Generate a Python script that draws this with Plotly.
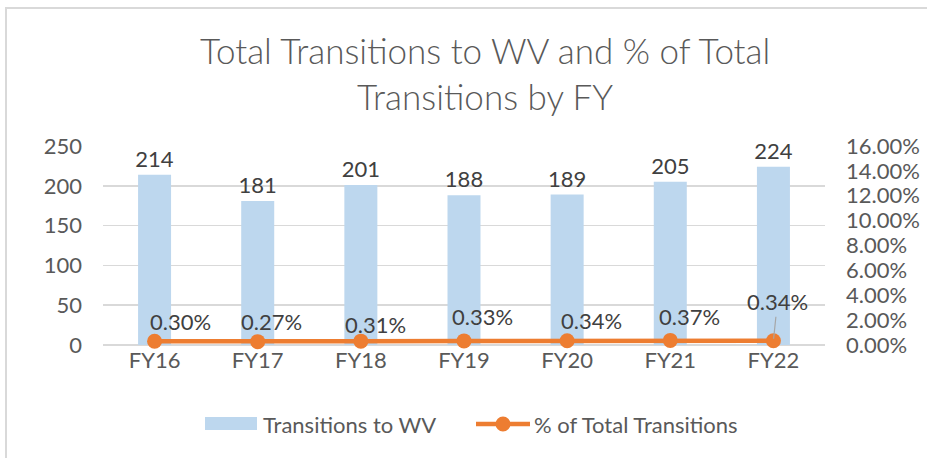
import plotly.graph_objects as go

categories = ["FY16", "FY17", "FY18", "FY19", "FY20", "FY21", "FY22"]
transitions = [214, 181, 201, 188, 189, 205, 224]
pct_total = [0.0030, 0.0027, 0.0031, 0.0033, 0.0034, 0.0037, 0.0034]
series_names = ["Transitions to WV", "% of Total Transitions"]

# label offsets (pixels) for the percentage data labels
label_dx = [26, 14, 15, 18, 24, 19, 4]
label_dy = [-20, -20, -17, -24, -20, -24, -39]

W, H = 927, 458
ML, MR, MT, MB = 103, 102, 146, 113
FONT = "Lato, 'Open Sans', sans-serif"
TXT = "#595959"
LBL = "#404040"
BLUE = "#BDD7EE"
ORANGE = "#ED7D31"

fig = go.Figure()
fig.add_trace(go.Bar(
    x=categories, y=transitions, name=series_names[0],
    marker=dict(color=BLUE, line=dict(width=0)),
    text=[str(v) for v in transitions], textposition="outside",
    constraintext="none",
    textfont=dict(family=FONT, size=22, color=LBL),
    cliponaxis=False, yaxis="y",
))
fig.add_trace(go.Scatter(
    x=categories, y=pct_total, name=series_names[1],
    mode="lines+markers",
    line=dict(color=ORANGE, width=4.5),
    marker=dict(color=ORANGE, size=15),
    yaxis="y2", cliponaxis=False,
))

pw = W - ML - MR
ph = H - MT - MB


def px(xp):
    return (xp - ML) / pw


def py(yp):
    return (H - MB - yp) / ph


annotations = []
for i, (c, v) in enumerate(zip(categories, pct_total)):
    a = dict(x=c, y=v, xref="x", yref="y2", text=f"{v*100:.2f}%",
             font=dict(family=FONT, size=22, color=LBL))
    if label_dy[i] < -30:
        a.update(showarrow=True, ax=label_dx[i], ay=label_dy[i], arrowhead=0,
                 arrowwidth=1.2, arrowcolor="#A6A6A6", standoff=2)
    else:
        a.update(showarrow=False, xshift=label_dx[i], yshift=-label_dy[i])
    annotations.append(a)

# title
annotations.append(dict(
    x=px(485), y=py(73), xref="paper", yref="paper", showarrow=False,
    xanchor="center", yanchor="middle",
    text="Total Transitions to WV and % of Total<br>Transitions by FY",
    font=dict(family=FONT, size=35, color=TXT, weight=300)))

# legend (manual)
annotations.append(dict(x=px(261), y=py(424), xref="paper", yref="paper",
                        showarrow=False, xanchor="left", yanchor="middle",
                        text=series_names[0],
                        font=dict(family=FONT, size=22, color=TXT)))
annotations.append(dict(x=px(532), y=py(424), xref="paper", yref="paper",
                        showarrow=False, xanchor="left", yanchor="middle",
                        text=series_names[1],
                        font=dict(family=FONT, size=22, color=TXT)))

shapes = [
    dict(type="rect", xref="paper", yref="paper", x0=px(6), x1=3,
         y0=-3, y1=py(8), line=dict(color="#D9D9D9", width=2), layer="below"),
    dict(type="rect", xref="paper", yref="paper", x0=px(205), x1=px(257),
         y0=py(430), y1=py(417), fillcolor=BLUE, line=dict(width=0)),
    dict(type="line", xref="paper", yref="paper", x0=px(476), x1=px(530),
         y0=py(424), y1=py(424), line=dict(color=ORANGE, width=4.5)),
    dict(type="circle", xref="paper", yref="paper", x0=px(495.5), x1=px(510.5),
         y0=py(431.5), y1=py(416.5), fillcolor=ORANGE, line=dict(width=0)),
]

fig.update_layout(
    width=W, height=H,
    margin=dict(l=ML, r=MR, t=MT, b=MB, autoexpand=False),
    paper_bgcolor="white", plot_bgcolor="white",
    font=dict(family=FONT, size=22, color=TXT),
    bargap=0.68,
    showlegend=False,
    xaxis=dict(type="category", showgrid=False, showline=False, ticks="",
               tickfont=dict(family=FONT, size=22, color=TXT)),
    yaxis=dict(range=[0, 250], dtick=50, showgrid=True, gridcolor="#D9D9D9",
               gridwidth=1.5, zeroline=True, zerolinecolor="#D9D9D9",
               zerolinewidth=1.5, showline=False, ticks="",
               ticklabelstandoff=20,
               tickfont=dict(family=FONT, size=22, color=TXT)),
    yaxis2=dict(range=[0, 0.16], dtick=0.02, tickformat=".2%", overlaying="y",
                side="right", showgrid=False, zeroline=False, showline=False,
                ticks="", ticklabelstandoff=20,
                tickfont=dict(family=FONT, size=22, color=TXT)),
    annotations=annotations,
    shapes=shapes,
)

fig.write_html("out.html",
               config={"displayModeBar": False, "staticPlot": True},
               post_script="document.body.style.margin='0';"
                           "document.body.style.overflow='hidden';")
